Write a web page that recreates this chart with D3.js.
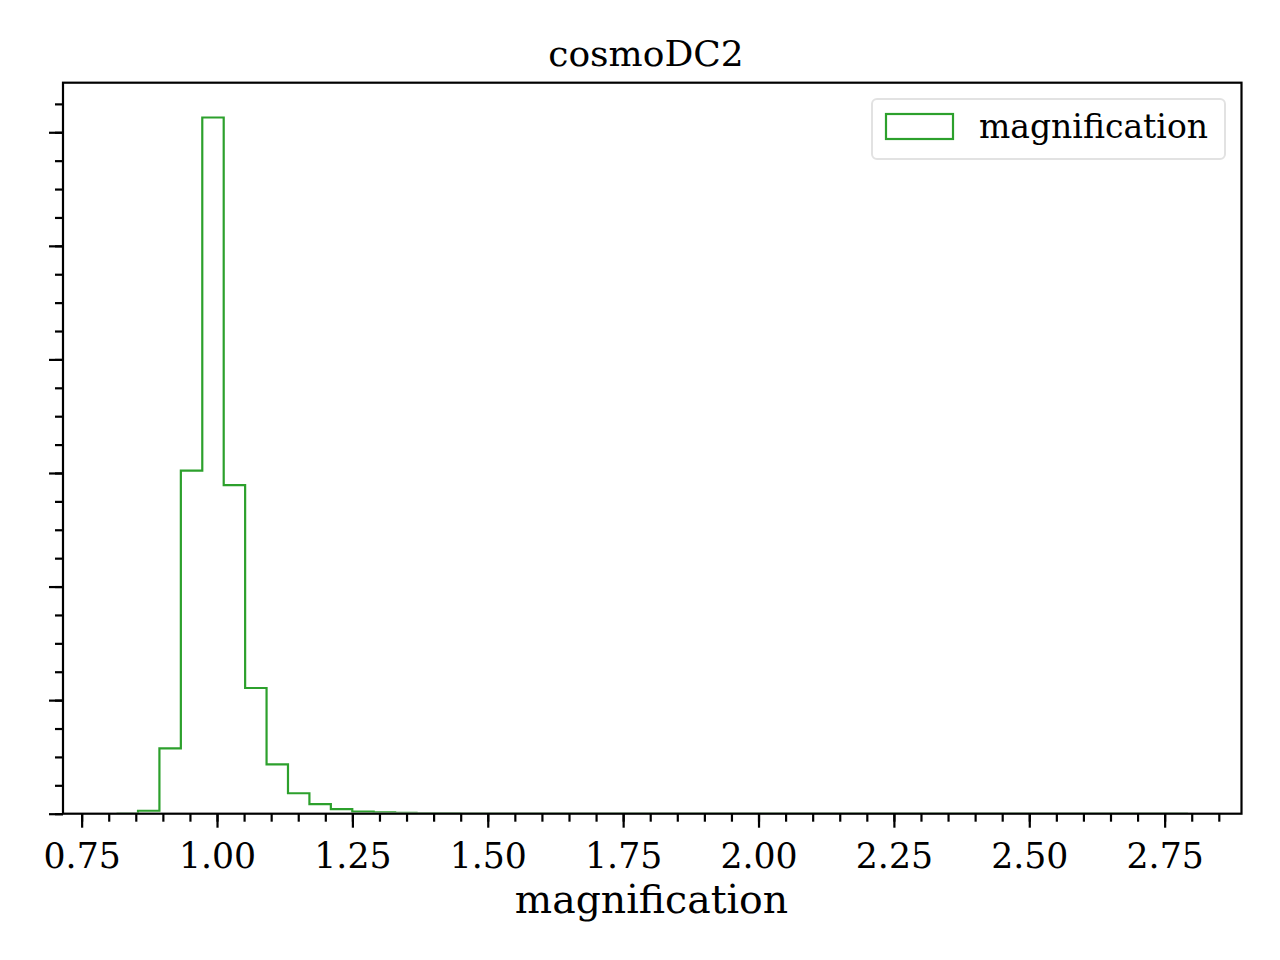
<!DOCTYPE html>
<html>
<head>
<meta charset="utf-8">
<script src="https://cdn.jsdelivr.net/npm/d3@7"></script>
<style>
  body { margin: 0; background: #fff; }
  text { font-family: "DejaVu Serif", serif; fill: #000; }
</style>
</head>
<body>
<svg id="chart" width="1280" height="960"></svg>
<script>
// histogram of magnification, 50 bins between binLo and binHi (density)
var binLo = 0.8145, binHi = 2.793;
var counts = [0, 0.026, 0.576, 3.02, 6.13, 2.893, 1.107, 0.435, 0.18, 0.085,
              0.041, 0.018, 0.011, 0.008, 0.004, 0.002, 0.001, 0.001, 0, 0,
              0, 0, 0, 0, 0, 0, 0, 0, 0, 0,
              0, 0, 0, 0, 0, 0, 0, 0, 0, 0,
              0, 0, 0, 0, 0, 0, 0, 0, 0, 0];
var xTicks = [0.75, 1.00, 1.25, 1.50, 1.75, 2.00, 2.25, 2.50, 2.75];
var green = "#2ca02c";

var svg = d3.select("#chart");
var axL = 63, axR = 1241.5, axT = 82.7, axB = 813.7;

var pad = (binHi - binLo) * 0.05;
var x = d3.scaleLinear().domain([binLo - pad, binHi + pad]).range([axL, axR]);
var y = d3.scaleLinear().domain([0, d3.max(counts) * 1.05]).range([axB, axT]);

svg.append("clipPath").attr("id", "plotclip").append("rect")
	.attr("x", axL).attr("y", axT).attr("width", axR - axL).attr("height", axB - axT - 1.2);

var binW = (binHi - binLo) / counts.length;
// step outline like histtype="step"
var pts = [[binLo, 0]];
counts.forEach(function(c, i) {
	pts.push([binLo + i * binW, c]);
	pts.push([binLo + (i + 1) * binW, c]);
});
pts.push([binHi, 0]);

var line = d3.line().x(function(d) { return x(d[0]); }).y(function(d) { return y(d[1]); });
svg.append("path").datum(pts).attr("d", line).attr("clip-path", "url(#plotclip)")
	.attr("fill", "none").attr("stroke", green).attr("stroke-width", 2.2)
	.attr("stroke-linejoin", "miter");

// x axis
var minorX = d3.range(0.75, 2.851, 0.05).filter(function(v) {
	return x(v) >= axL && x(v) <= axR;
});
var gx = svg.append("g").attr("transform", "translate(0," + axB + ")");
gx.call(d3.axisBottom(x).tickValues(minorX).tickSize(8).tickFormat(""));
gx.append("g").call(d3.axisBottom(x).tickValues(xTicks).tickSize(14).tickPadding(7)
	.tickFormat(d3.format(".2f")));
gx.selectAll("text").attr("font-size", 34.7).attr("fill", "#000")
	.attr("font-family", "DejaVu Serif, serif").attr("dy", "0.95em");

// y axis, ticks without labels
var gy = svg.append("g").attr("transform", "translate(" + axL + ",0)");
gy.call(d3.axisLeft(y).tickValues(d3.range(0, 6.41, 0.25)).tickSize(8).tickFormat(""));
gy.append("g").call(d3.axisLeft(y).tickValues(d3.range(0, 7)).tickSize(14).tickFormat(""));

svg.selectAll(".domain").remove();
svg.selectAll(".tick line").attr("stroke", "#000").attr("stroke-width", 2.2);

// frame
svg.append("rect").attr("x", axL).attr("y", axT)
	.attr("width", axR - axL).attr("height", axB - axT)
	.attr("fill", "none").attr("stroke", "#000").attr("stroke-width", 2.2);

// title and label
svg.append("text").attr("x", 646).attr("y", 65.7)
	.attr("text-anchor", "middle").attr("font-size", 36).text("cosmoDC2");
svg.append("text").attr("x", 651.5).attr("y", 913)
	.attr("text-anchor", "middle").attr("font-size", 39.4).text("magnification");

// legend
var lg = svg.append("g");
lg.append("rect").attr("x", 872).attr("y", 99).attr("width", 353).attr("height", 60)
	.attr("rx", 5).attr("fill", "#fff").attr("stroke", "#e2e2e2").attr("stroke-width", 2);
lg.append("rect").attr("x", 886).attr("y", 114).attr("width", 67).attr("height", 25)
	.attr("fill", "none").attr("stroke", green).attr("stroke-width", 2.2);
lg.append("text").attr("x", 979).attr("y", 137.7).attr("font-size", 33).text("magnification");
</script>
</body>
</html>
